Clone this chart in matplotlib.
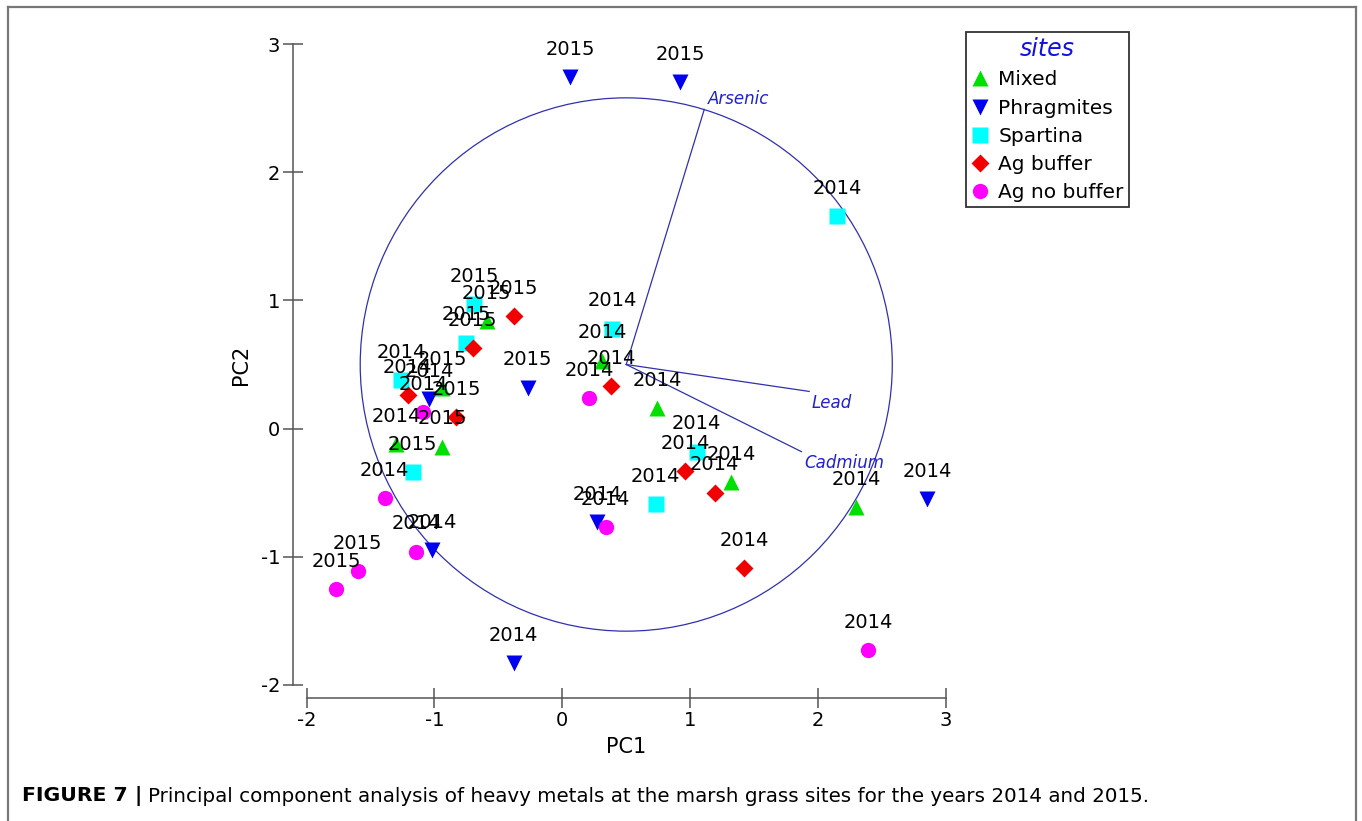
import matplotlib
matplotlib.use("Agg")
import matplotlib.pyplot as plt
from matplotlib.lines import Line2D
from matplotlib.patches import Circle

plt.rcParams["font.family"] = ["DejaVu Sans"]
plt.rcParams["axes.unicode_minus"] = False

# PCA scores (PC1, PC2) with the sampling year of each point
mixed_pc1 = [-0.59, -0.94, -0.94, -1.30, 0.31, 0.74, 1.32, 2.30]
mixed_pc2 = [0.84, 0.32, -0.14, -0.12, 0.53, 0.16, -0.42, -0.61]
mixed_year = [2015, 2015, 2015, 2014, 2014, 2014, 2014, 2014]

phrag_pc1 = [0.06, 0.92, -0.27, -1.04, -1.02, 0.27, -0.38, 2.85]
phrag_pc2 = [2.74, 2.70, 0.32, 0.23, -0.95, -0.73, -1.83, -0.55]
phrag_year = [2015, 2015, 2015, 2014, 2014, 2014, 2014, 2014]

spart_pc1 = [2.15, 0.39, -0.69, -0.75, -1.26, -1.17, 1.05, 0.73]
spart_pc2 = [1.66, 0.78, 0.97, 0.67, 0.38, -0.34, -0.18, -0.59]
spart_year = [2014, 2014, 2015, 2015, 2014, 2015, 2014, 2014]

agbuf_pc1 = [-0.38, -0.70, -1.21, -0.83, 0.38, 0.96, 1.19, 1.42]
agbuf_pc2 = [0.88, 0.63, 0.26, 0.09, 0.33, -0.33, -0.50, -1.09]
agbuf_year = [2015, 2015, 2014, 2015, 2014, 2014, 2014, 2014]

agnobuf_pc1 = [-1.09, -1.39, -1.14, -1.60, -1.77, 0.21, 0.34, 2.39]
agnobuf_pc2 = [0.13, -0.54, -0.96, -1.11, -1.25, 0.24, -0.77, -1.73]
agnobuf_year = [2014, 2014, 2014, 2015, 2015, 2014, 2014, 2014]

# metal loading vectors: origin and tips
vec_origin = (0.50, 0.50)
metals = ["Arsenic", "Lead", "Cadmium"]
metal_pc1 = [1.11, 1.93, 1.87]
metal_pc2 = [2.49, 0.29, -0.18]
circle_radius = 2.08

caption_bold = "FIGURE 7 |"
caption_text = ("Principal component analysis of heavy metals at the marsh grass sites "
                "for the years 2014 and 2015.")

series = [
    ("Mixed", mixed_pc1, mixed_pc2, mixed_year, "^", "#00e000", 12),
    ("Phragmites", phrag_pc1, phrag_pc2, phrag_year, "v", "#0000f0", 12),
    ("Spartina", spart_pc1, spart_pc2, spart_year, "s", "#00ffff", 11),
    ("Ag buffer", agbuf_pc1, agbuf_pc2, agbuf_year, "D", "#f00000", 9.2),
    ("Ag no buffer", agnobuf_pc1, agnobuf_pc2, agnobuf_year, "o", "#ff00ff", 11),
]

W, H = 1362, 821
fig = plt.figure(figsize=(W / 100, H / 100), dpi=100)
ax = fig.add_axes([306.5 / W, 1 - 685 / H, 639.5 / W, 641 / H])

axis_col = "#555555"
vec_col = "#3030b0"
label_size = 14

ax.add_patch(Circle(vec_origin, circle_radius, fill=False, edgecolor=vec_col, lw=0.9, zorder=1))
label_off = {"Arsenic": (0.03, 0.08), "Lead": (0.02, -0.09), "Cadmium": (0.02, -0.09)}
for name, px, py in zip(metals, metal_pc1, metal_pc2):
    ax.plot([vec_origin[0], px], [vec_origin[1], py], color=vec_col, lw=0.9, zorder=1)
    dx, dy = label_off[name]
    ax.text(px + dx, py + dy, name, color="#2020d0", fontsize=12, style="italic",
            ha="left", va="center", zorder=2)

handles = []
for name, xs, ys, yrs, mk, col, ms in series:
    ax.plot(xs, ys, ls="none", marker=mk, color=col, ms=ms, mec="none", zorder=2)
    handles.append(Line2D([], [], ls="none", marker=mk, color=col, ms=ms, mec="none"))
for name, xs, ys, yrs, mk, col, ms in series:
    for x, y, yr in zip(xs, ys, yrs):
        ax.annotate(str(yr), (x, y), xytext=(0, 20), textcoords="offset points",
                    ha="center", va="center", fontsize=label_size, color="black", zorder=4)

ax.set_xlim(-2, 3)
ax.set_ylim(-2, 3)
ax.set_xticks([-2, -1, 0, 1, 2, 3])
ax.set_yticks([-2, -1, 0, 1, 2, 3])
for side in ["top", "right"]:
    ax.spines[side].set_visible(False)
ax.spines["left"].set_position(("outward", 10))
ax.spines["bottom"].set_position(("outward", 9.5))
for side in ["left", "bottom"]:
    ax.spines[side].set_color(axis_col)
    ax.spines[side].set_linewidth(1.1)
    ax.spines[side].set_bounds(-2, 3)
ax.tick_params(direction="inout", length=14, width=1.1, color=axis_col,
               labelsize=label_size, pad=2)
ax.set_xlabel("PC1", fontsize=15, labelpad=5)
ax.set_ylabel("PC2", fontsize=15, labelpad=7)

leg = ax.legend(handles, [s[0] for s in series], title="sites",
                loc="upper left", bbox_to_anchor=(966 / W, 1 - 32 / H),
                bbox_transform=fig.transFigure, fancybox=False, framealpha=1,
                edgecolor="#333333", borderaxespad=0, fontsize=14.5,
                handlelength=0.9, handletextpad=0.45, labelspacing=0.46,
                borderpad=0.25)
leg.get_frame().set_linewidth(1.3)
leg.get_title().set_fontsize(17)
leg.get_title().set_style("italic")
leg.get_title().set_color("#1010e0")

# outer frame of the figure panel (open at the bottom)
for xs, ys in [([8, 8], [0, 7]), ([8, 1356], [7, 7]), ([1356, 1356], [7, 0])]:
    fig.add_artist(Line2D([x / W for x in xs], [1 - y / H if y else 0 for y in ys],
                          color="#777777", lw=1.6, transform=fig.transFigure))

# caption: bold figure number then plain text, sized so it ends where the original does
cap_y = 1 - 796 / H
t1 = fig.text(22 / W, cap_y, caption_bold, fontsize=12, fontweight="bold", va="center")
t2 = fig.text(125 / W, cap_y, caption_text, fontsize=12, va="center")
fig.canvas.draw()
cap_size = 12 * (1145 - 125) / t2.get_window_extent().width
t1.set_fontsize(cap_size)
fig.canvas.draw()
x0 = t1.get_window_extent().x1 + 6
t2.set_x(x0 / W)
t2.set_fontsize(12 * (1145 - x0) / t2.get_window_extent().width)

fig.savefig("out.png", dpi=100)
